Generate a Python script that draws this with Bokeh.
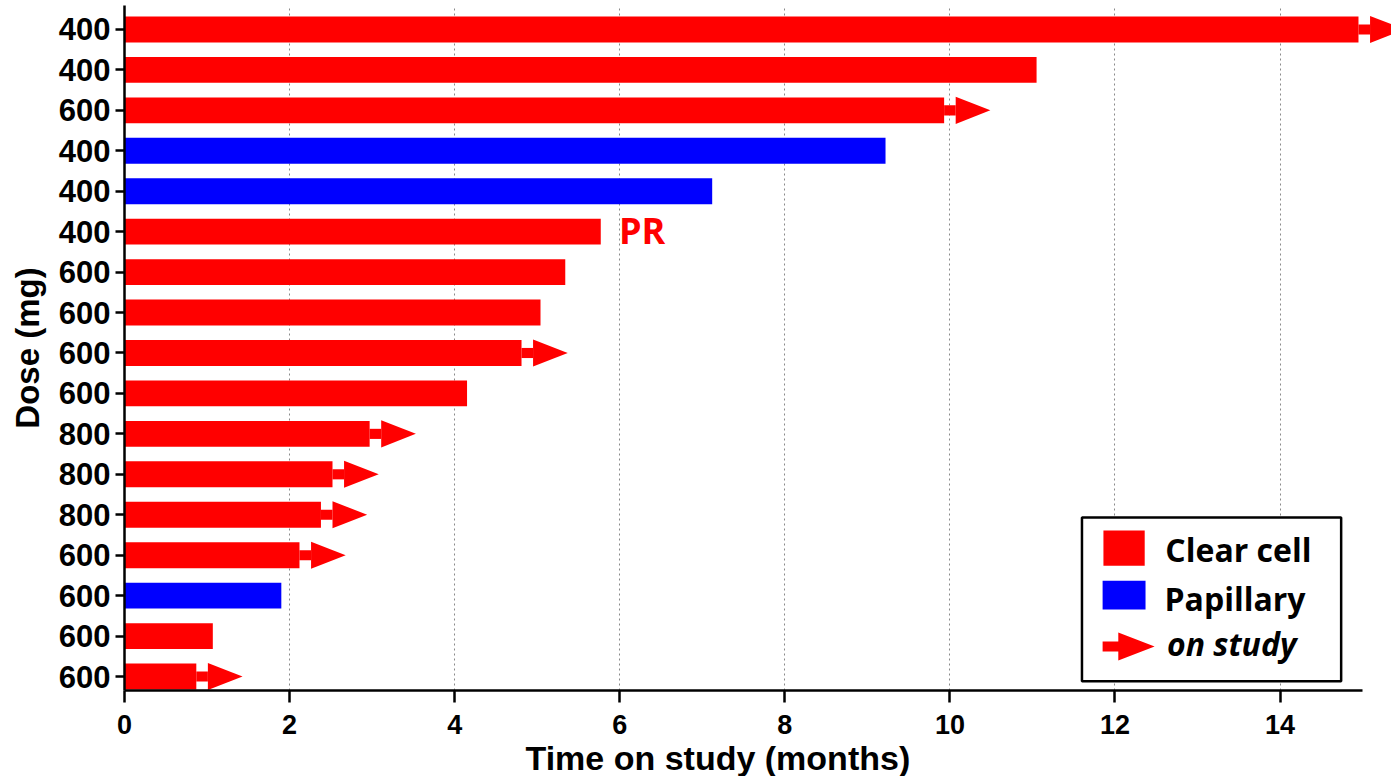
from bokeh.plotting import figure
from bokeh.models import FixedTicker, BoxAnnotation, PolyAnnotation, Label, ColumnDataSource, Title
from bokeh.core.properties import value
from bokeh.embed import file_html
from bokeh.resources import INLINE

# ---- data (top row first) ----
doses = ["400", "400", "600", "400", "400", "400", "600", "600", "600",
         "600", "800", "800", "800", "600", "600", "600", "600"]
months = [14.95, 11.05, 9.93, 9.22, 7.12, 5.77, 5.34, 5.04, 4.81,
          4.15, 2.97, 2.52, 2.38, 2.12, 1.90, 1.07, 0.87]
histology = ["Clear cell", "Clear cell", "Clear cell", "Papillary", "Papillary",
             "Clear cell", "Clear cell", "Clear cell", "Clear cell", "Clear cell",
             "Clear cell", "Clear cell", "Clear cell", "Clear cell", "Papillary",
             "Clear cell", "Clear cell"]
on_study = [True, False, True, False, False, False, False, False, True,
            False, True, True, True, True, False, False, True]
response = ["", "", "", "", "", "PR", "", "", "", "", "", "", "", "", "", "", ""]
x_ticks = [0, 2, 4, 6, 8, 10, 12, 14]

RED = "#FF0000"
BLUE = "#0000FF"
color_map = {"Clear cell": RED, "Papillary": BLUE}

n = len(doses)
rows = list(range(n, 0, -1))

BAR_H = 0.64
STEM_LEN = 0.14
STEM_H = 0.25
TRI_LEN = 0.42
TRI_H = 0.67
TXT_FIX = 0.31  # baseline correction for annotation text

p = figure(width=1391, height=776, x_range=(0, 15.35), y_range=(0.654, 17.593),
           output_backend="svg", toolbar_location=None,
           min_border_left=124, min_border_right=0, min_border_top=5, min_border_bottom=86)
p.outline_line_color = None
p.background_fill_color = "white"
p.border_fill_color = "white"

src = ColumnDataSource(dict(y=rows, right=months, color=[color_map[h] for h in histology]))
p.hbar(y="y", left=0, right="right", height=BAR_H, fill_color="color", line_color=None, source=src)

# on-study arrows
a_rows = [r for r, s in zip(rows, on_study) if s]
a_m = [m for m, s in zip(months, on_study) if s]
p.hbar(y=a_rows, left=a_m, right=[m + STEM_LEN for m in a_m], height=STEM_H,
       fill_color=RED, line_color=None)
xs = [[m + STEM_LEN, m + STEM_LEN, m + STEM_LEN + TRI_LEN] for m in a_m]
ys = [[r - TRI_H / 2, r + TRI_H / 2, r] for r in a_rows]
p.patches(xs=xs, ys=ys, fill_color=RED, line_color=None)

# response labels
r_rows = [r for r, t in zip(rows, response) if t]
r_m = [m + 0.22 for m, t in zip(months, response) if t]
r_t = [t for t in response if t]
p.text(x=r_m, y=r_rows, text=r_t, text_font=value("Open Sans"), text_font_style="bold",
       text_font_size="36px", text_color=RED, text_baseline="alphabetic", y_offset=-1)

# axes
AX_FONT = "Liberation Sans"
p.xaxis.ticker = FixedTicker(ticks=x_ticks)
p.xaxis.bounds = (0, 15)
p.xaxis.major_tick_out = 12
p.xaxis.major_tick_in = 0
p.xaxis.major_label_text_font_size = "27px"
p.xaxis.major_label_standoff = 12

p.yaxis.ticker = FixedTicker(ticks=rows)
p.yaxis.major_label_overrides = {r: d for r, d in zip(rows, doses)}
p.yaxis.axis_label = "Dose (mg)"
p.yaxis.major_tick_out = 9
p.yaxis.major_tick_in = 0
p.yaxis.major_label_text_font_size = "31px"
p.yaxis.major_label_standoff = 5
p.yaxis.axis_label_standoff = 10

for ax in (p.xaxis, p.yaxis):
    ax.minor_tick_line_color = None
    ax.axis_line_width = 2.5
    ax.axis_line_color = "black"
    ax.major_tick_line_width = 2.5
    ax.major_tick_line_color = "black"
    ax.major_label_text_font = AX_FONT
    ax.major_label_text_font_style = "bold"
    ax.major_label_text_color = "black"
    ax.axis_label_text_font = AX_FONT
    ax.axis_label_text_font_style = "bold"
    ax.axis_label_text_font_size = "33px"
    ax.axis_label_text_color = "black"

# x-axis title, placed left of centre as in the original
p.add_layout(Title(text="Time on study (months)", align="left", offset=401,
                   text_font=AX_FONT, text_font_style="bold", text_font_size="34px",
                   text_color="black", standoff=0), "below")

p.ygrid.visible = False
p.xgrid.grid_line_color = "#8a8a8a"
p.xgrid.grid_line_dash = "2 3"
p.xgrid.grid_line_width = 1

# ---- manual legend ----
LEG_FONT = "Open Sans"
p.add_layout(BoxAnnotation(left=11.6, right=14.74, bottom=0.88, top=4.93,
                           fill_color="white", fill_alpha=1, line_color="black",
                           line_width=2.5, line_alpha=1))
p.add_layout(BoxAnnotation(left=11.86, right=12.36, bottom=3.74, top=4.61,
                           fill_color=RED, fill_alpha=1, line_color=None))
p.add_layout(BoxAnnotation(left=11.85, right=12.37, bottom=2.66, top=3.37,
                           fill_color=BLUE, fill_alpha=1, line_color=None))
p.add_layout(PolyAnnotation(xs=[11.85, 12.04, 12.04, 12.48, 12.04, 12.04, 11.85],
                            ys=[1.618, 1.618, 1.396, 1.742, 2.088, 1.866, 1.866],
                            fill_color=RED, fill_alpha=1, line_color=None))
for txt, lx, ly, style in [("Clear cell", 12.61, 3.84, "bold"),
                           ("Papillary", 12.60, 2.63, "bold"),
                           ("on study", 12.63, 1.495, "bold italic")]:
    p.add_layout(Label(x=lx, y=ly + TXT_FIX, text=txt, text_font=LEG_FONT, text_font_style=style,
                       text_font_size="32px", text_color="black", text_baseline="alphabetic"))

open("out.html", "w").write(file_html(p, INLINE))
